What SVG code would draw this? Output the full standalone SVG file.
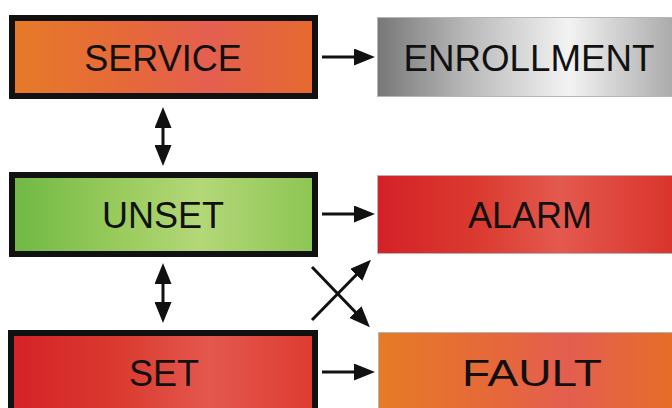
<svg xmlns="http://www.w3.org/2000/svg" width="672" height="408" viewBox="0 0 672 408">
<style>
.st{stroke:#111;stroke-width:6}
.fl{stroke:#b5b5b5;stroke-width:1}
.t{font-family:"Liberation Sans",Arial,sans-serif;font-size:36px;fill:#111;text-anchor:middle}
.c{fill:none;stroke:#111;stroke-width:3}
</style>
<defs>
<linearGradient id="gServ" gradientUnits="userSpaceOnUse" x1="9" y1="0" x2="318" y2="0">
<stop offset="0" stop-color="#e67b27"/><stop offset="0.4" stop-color="#e6683a"/><stop offset="0.65" stop-color="#e45f50"/><stop offset="1" stop-color="#e66a2e"/>
</linearGradient>
<linearGradient id="gEnr" gradientUnits="userSpaceOnUse" x1="377" y1="0" x2="672" y2="0">
<stop offset="0" stop-color="#777"/><stop offset="0.3" stop-color="#b8b8b8"/><stop offset="0.65" stop-color="#f3f3f3"/><stop offset="1" stop-color="#ababab"/>
</linearGradient>
<linearGradient id="gUns" gradientUnits="userSpaceOnUse" x1="9" y1="0" x2="318" y2="0">
<stop offset="0" stop-color="#6fb843"/><stop offset="0.35" stop-color="#98cb5c"/><stop offset="0.62" stop-color="#b4d778"/><stop offset="1" stop-color="#8bc552"/>
</linearGradient>
<linearGradient id="gSet" gradientUnits="userSpaceOnUse" x1="9" y1="0" x2="318" y2="0">
<stop offset="0" stop-color="#d42127"/><stop offset="0.35" stop-color="#da3a2f"/><stop offset="0.65" stop-color="#e4584e"/><stop offset="1" stop-color="#dd3a30"/>
</linearGradient>
<linearGradient id="gAl" gradientUnits="userSpaceOnUse" x1="377" y1="0" x2="672" y2="0">
<stop offset="0" stop-color="#d42127"/><stop offset="0.35" stop-color="#db3b30"/><stop offset="0.62" stop-color="#e4594e"/><stop offset="1" stop-color="#d9342c"/>
</linearGradient>
<linearGradient id="gFa" gradientUnits="userSpaceOnUse" x1="378" y1="0" x2="672" y2="0">
<stop offset="0" stop-color="#e67b26"/><stop offset="0.4" stop-color="#e6683a"/><stop offset="0.65" stop-color="#e45e50"/><stop offset="1" stop-color="#e66d29"/>
</linearGradient>
<marker id="ah" markerUnits="userSpaceOnUse" viewBox="0 0 21 17" markerWidth="21" markerHeight="17" refX="11" refY="8.5" orient="auto-start-reverse">
<path d="M0,0 L21,8.5 L0,17 Z" fill="#111"/>
</marker>
</defs>
<g id="service">
<rect x="12" y="18" width="303" height="78" fill="url(#gServ)" class="st"/>
<text x="163" y="71" class="t">SERVICE</text>
</g>
<g id="enrollment">
<rect x="377.5" y="17.5" width="300" height="79" fill="url(#gEnr)" class="fl"/>
<text x="529" y="71" class="t" textLength="251" lengthAdjust="spacingAndGlyphs">ENROLLMENT</text>
</g>
<g id="unset">
<rect x="12" y="175" width="303" height="79" fill="url(#gUns)" class="st"/>
<text x="163" y="228" class="t">UNSET</text>
</g>
<g id="alarm">
<rect x="377.5" y="175.5" width="300" height="78" fill="url(#gAl)" class="fl"/>
<text x="530" y="228" class="t">ALARM</text>
</g>
<g id="set">
<rect x="11" y="333" width="304" height="100" fill="url(#gSet)" class="st"/>
<text x="164" y="386" class="t">SET</text>
</g>
<g id="fault">
<rect x="378.5" y="332.5" width="300" height="100" fill="url(#gFa)" class="fl"/>
<text x="532" y="386" class="t" style="font-size:37px" textLength="140" lengthAdjust="spacingAndGlyphs">FAULT</text>
</g>
<g id="connectors">
<path d="M322,57 H365" class="c" marker-end="url(#ah)"/>
<path d="M322,214 H365" class="c" marker-end="url(#ah)"/>
<path d="M322,372 H365" class="c" marker-end="url(#ah)"/>
<path d="M163,117 V156" class="c" marker-start="url(#ah)" marker-end="url(#ah)"/>
<path d="M163,273 V313" class="c" marker-start="url(#ah)" marker-end="url(#ah)"/>
<path d="M312,320 L364,267" class="c" marker-end="url(#ah)"/>
<path d="M312,267 L363,320" class="c" marker-end="url(#ah)"/>
</g>
</svg>
